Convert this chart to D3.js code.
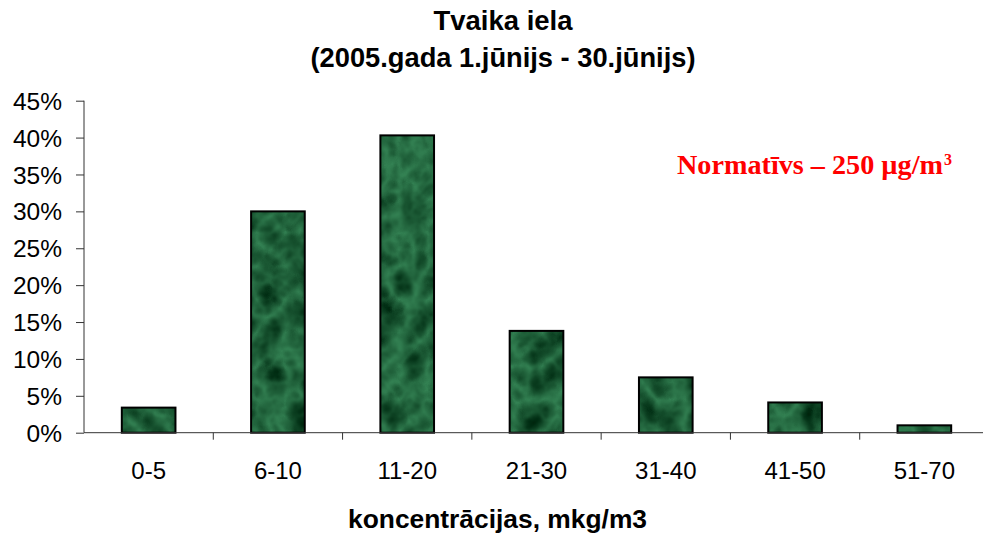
<!DOCTYPE html>
<html><head><meta charset="utf-8">
<script src="https://cdn.jsdelivr.net/npm/d3@7"></script>
<style>html,body{margin:0;padding:0;background:#fff;}svg{display:block;}</style>
</head><body>
<script>
const categories = ["0-5","6-10","11-20","21-30","31-40","41-50","51-70"];
const values = [0.034, 0.30, 0.403, 0.138, 0.075, 0.041, 0.010];
const yTicks = [0,0.05,0.10,0.15,0.20,0.25,0.30,0.35,0.40,0.45];
const titleLines = ["Tvaika iela","(2005.gada 1.jūnijs - 30.jūnijs)"];
const titleWidths = [139, 385];
const xTitle = "koncentrācijas, mkg/m3";

const W = 983, H = 537;
const svg = d3.select("body").append("svg").attr("width", W).attr("height", H);
const defs = svg.append("defs");

// marble filter
const f = defs.append("filter").attr("id","marble").attr("x",0).attr("y",0).attr("width",W).attr("height",H)
  .attr("filterUnits","userSpaceOnUse").attr("color-interpolation-filters","sRGB");
f.append("feTurbulence").attr("type","turbulence").attr("baseFrequency","0.035 0.03").attr("numOctaves",4).attr("seed",11).attr("result","t");
f.append("feGaussianBlur").attr("in","t").attr("stdDeviation",0.8).attr("result","b");
f.append("feColorMatrix").attr("in","b").attr("type","matrix")
  .attr("values","-0.30 0 0 0 0.22  -0.50 0 0 0 0.54  -0.38 0 0 0 0.35  0 0 0 0 1");
const pat = defs.append("pattern").attr("id","marblePat").attr("patternUnits","userSpaceOnUse")
  .attr("x",0).attr("y",0).attr("width",W).attr("height",H);
pat.append("rect").attr("width",W).attr("height",H).attr("filter","url(#marble)");

const x0 = 84, x1 = 989, yTop = 100.7, yBot = 432.7;
const x = d3.scaleBand().domain(categories).range([x0, x1]).paddingInner(0.585).paddingOuter(0.2925);
const y = d3.scaleLinear().domain([0, 0.45]).range([yBot, yTop]);
const sans = "Liberation Sans, Arial, sans-serif";

// title
svg.append("g").selectAll("text").data(titleLines).join("text")
  .attr("x", 503).attr("y", (d,i) => 30 + i*37)
  .attr("text-anchor","middle")
  .attr("font-family",sans)
  .attr("font-weight","bold").attr("font-size", 27).attr("fill","#000")
  .attr("textLength",(d,i) => titleWidths[i]).attr("lengthAdjust","spacingAndGlyphs")
  .text(d => d);

// bars
svg.append("g").selectAll("rect").data(values).join("rect")
  .attr("x", (d,i) => x(categories[i]))
  .attr("y", d => y(d))
  .attr("width", x.bandwidth())
  .attr("height", d => y(0) - y(d))
  .attr("fill","url(#marblePat)")
  .attr("stroke","#000").attr("stroke-width",2);

// y axis
const yAxis = svg.append("g").attr("transform",`translate(${x0},0)`)
  .call(d3.axisLeft(y).tickValues(yTicks).tickFormat(d3.format(".0%")).tickSize(8).tickPadding(14));
yAxis.select(".domain").attr("stroke","#333").attr("d",`M0,${yTop}V${yBot}`);
yAxis.selectAll(".tick line").attr("stroke","#333");
yAxis.selectAll("text").attr("font-family",sans).attr("font-size",24.5).attr("fill","#000").attr("dy","0.35em");

// x axis
const xAxis = svg.append("g").attr("transform",`translate(0,${yBot})`)
  .call(d3.axisBottom(x).tickSize(0).tickPadding(26));
xAxis.select(".domain").attr("stroke","#333").attr("d",`M${x0},0H${W}`);
xAxis.selectAll("text").attr("font-family",sans).attr("font-size",24).attr("fill","#000")
  .attr("dy",null).attr("y",46);
const bounds = categories.slice(1).map(c => x(c) - x.step()*x.paddingInner()/2);
xAxis.append("g").selectAll("line").data(bounds).join("line")
  .attr("x1", d => d).attr("x2", d => d).attr("y1",0).attr("y2",7).attr("stroke","#333");

// x title
svg.append("text").attr("x", 497.5).attr("y", 528).attr("text-anchor","middle")
  .attr("font-family",sans).attr("font-weight","bold").attr("font-size",26.5)
  .attr("textLength",299).attr("lengthAdjust","spacingAndGlyphs")
  .text(xTitle);

// annotation
const serif = "Liberation Serif, Times New Roman, serif";
svg.append("text").attr("x", 677).attr("y", 174)
  .attr("font-family",serif).attr("font-weight","bold").attr("font-size",28).attr("fill","#ff0000")
  .attr("textLength",266).attr("lengthAdjust","spacingAndGlyphs")
  .text("Normatīvs – 250 µg/m");
svg.append("text").attr("x", 944).attr("y", 165)
  .attr("font-family",serif).attr("font-weight","bold").attr("font-size",16).attr("fill","#ff0000")
  .text("3");
</script>
</body></html>
